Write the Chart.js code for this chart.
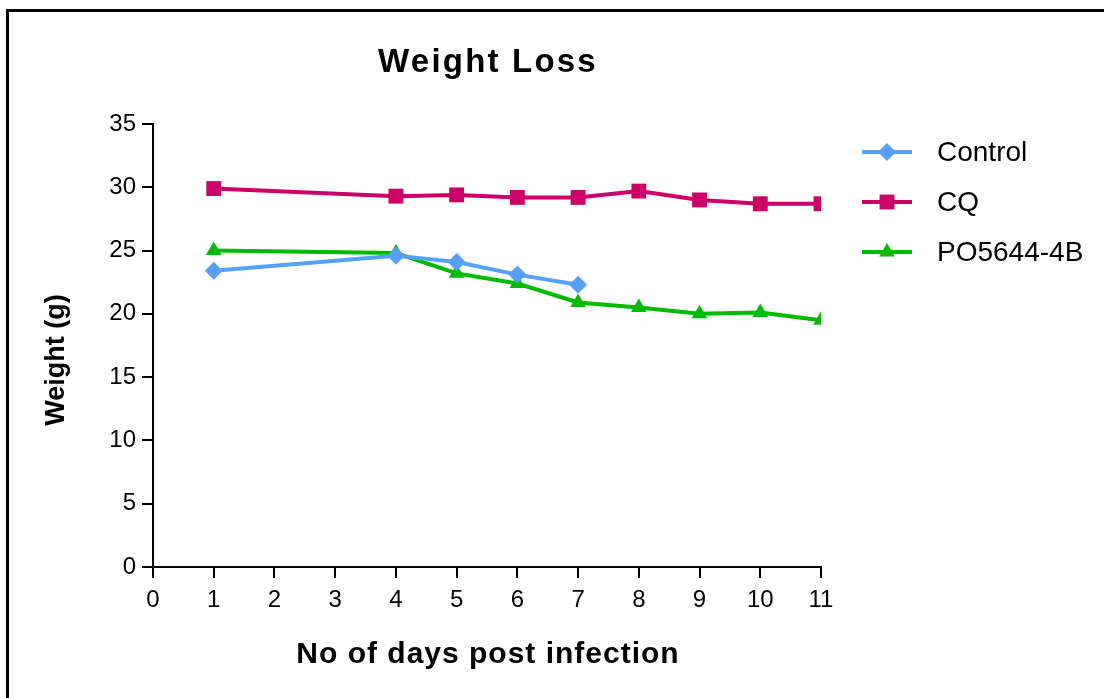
<!DOCTYPE html>
<html>
<head>
<meta charset="utf-8">
<script src="https://cdn.jsdelivr.net/npm/chart.js@4"></script>
<style>
  html, body { margin: 0; padding: 0; background: #fff; }
  #wrap { position: relative; width: 1104px; height: 698px; overflow: hidden; }
  #frame { position: absolute; left: 6px; top: 9px; width: 1200px; height: 800px;
           border-left: 3px solid #000; border-top: 3px solid #000; }
  canvas { position: absolute; left: 0; top: 0; }
</style>
</head>
<body>
<div id="wrap">
  <div id="frame"></div>
  <canvas id="weightChart" width="1104" height="698"></canvas>
</div>
<script>
const ctx = document.getElementById('weightChart').getContext('2d');

const controlDays = [1, 4, 5, 6, 7];
const controlWeight = [23.4, 24.6, 24.1, 23.1, 22.3];
const days = [1, 4, 5, 6, 7, 8, 9, 10, 11];
const cqWeight = [29.9, 29.3, 29.4, 29.2, 29.2, 29.7, 29.0, 28.7, 28.7];
const poWeight = [25.0, 24.8, 23.2, 22.4, 20.9, 20.5, 20.0, 20.1, 19.5];
const yTicks = [0, 5, 10, 15, 20, 25, 30, 35];
const xTicks = [0, 1, 2, 3, 4, 5, 6, 7, 8, 9, 10, 11];

const chartTitle = 'Weight Loss';
const xTitle = 'No of days post infection';
const yTitle = 'Weight (g)';

const FONT = '"Liberation Sans", Arial, sans-serif';

function pts(xs, ys) {
  return xs.map((x, i) => ({ x: x, y: ys[i] }));
}

function series(label, data, color, style, radius) {
  return {
    label: label,
    data: data,
    borderColor: color,
    backgroundColor: color,
    borderWidth: 4,
    pointStyle: style,
    pointRadius: radius,
    pointHoverRadius: radius,
    pointBorderWidth: 0,
    tension: 0
  };
}

// titles and legend drawn by hand so they sit where the original puts them
const extras = {
  id: 'extras',
  afterDraw(chart) {
    const c = chart.ctx;
    const area = chart.chartArea;
    c.save();
    c.fillStyle = '#000';
    c.textAlign = 'center';
    c.textBaseline = 'middle';

    c.font = 'bold 33px ' + FONT;
    c.letterSpacing = '2.2px';
    c.fillText(chartTitle, (area.left + area.right) / 2 + 1, 63);

    c.font = 'bold 30px ' + FONT;
    c.letterSpacing = '1px';
    c.fillText(xTitle, (area.left + area.right) / 2 + 1, 655);

    c.save();
    c.translate(57, 360);
    c.rotate(-Math.PI / 2);
    c.font = 'bold 27px ' + FONT;
    c.letterSpacing = '0px';
    c.fillText(yTitle, 0, 0);
    c.restore();

    c.letterSpacing = '0px';
    c.textAlign = 'left';
    chart.data.datasets.forEach((ds, i) => {
      const y = 152 + i * 50;
      c.strokeStyle = ds.borderColor;
      c.lineWidth = 4;
      c.beginPath();
      c.moveTo(862, y);
      c.lineTo(912, y);
      c.stroke();
      c.fillStyle = ds.backgroundColor;
      Chart.helpers.drawPoint(c, { pointStyle: ds.pointStyle, radius: ds.pointRadius, borderWidth: 0 }, 887, y);
      c.fillStyle = '#000';
      c.font = '28px ' + FONT;
      c.fillText(ds.label, 937, y + 1);
    });
    c.restore();
  }
};

const weightChart = new Chart(ctx, {
  type: 'line',
  data: {
    datasets: [
      series('Control', pts(controlDays, controlWeight), '#56A0F7', 'rectRot', 9),
      series('CQ', pts(days, cqWeight), '#CC0066', 'rect', 10.5),
      series('PO5644-4B', pts(days, poWeight), '#00BB00', 'triangle', 9)
    ]
  },
  options: {
    responsive: false,
    animation: false,
    layout: { padding: { left: 36, right: 283, top: 124, bottom: 20 } },
    plugins: {
      legend: { display: false },
      tooltip: { enabled: false },
      title: { display: false }
    },
    scales: {
      x: {
        type: 'linear',
        min: 0,
        max: 11,
        afterBuildTicks: s => { s.ticks = xTicks.map(v => ({ value: v })); },
        afterFit: s => { s.height = 111; },
        ticks: { color: '#000', font: { family: FONT, size: 24 }, padding: 8 },
        grid: { drawOnChartArea: false, drawTicks: true, tickLength: 11, color: '#000', lineWidth: 2 },
        border: { display: true, color: '#000', width: 2 }
      },
      y: {
        min: 0,
        max: 35,
        afterBuildTicks: s => { s.ticks = yTicks.map(v => ({ value: v })); },
        afterFit: s => { s.width = 117; },
        ticks: { color: '#000', font: { family: FONT, size: 24 }, padding: 6 },
        grid: { drawOnChartArea: false, drawTicks: true, tickLength: 11, color: '#000', lineWidth: 2 },
        border: { display: true, color: '#000', width: 2 }
      }
    }
  },
  plugins: [extras]
});
</script>
</body>
</html>
